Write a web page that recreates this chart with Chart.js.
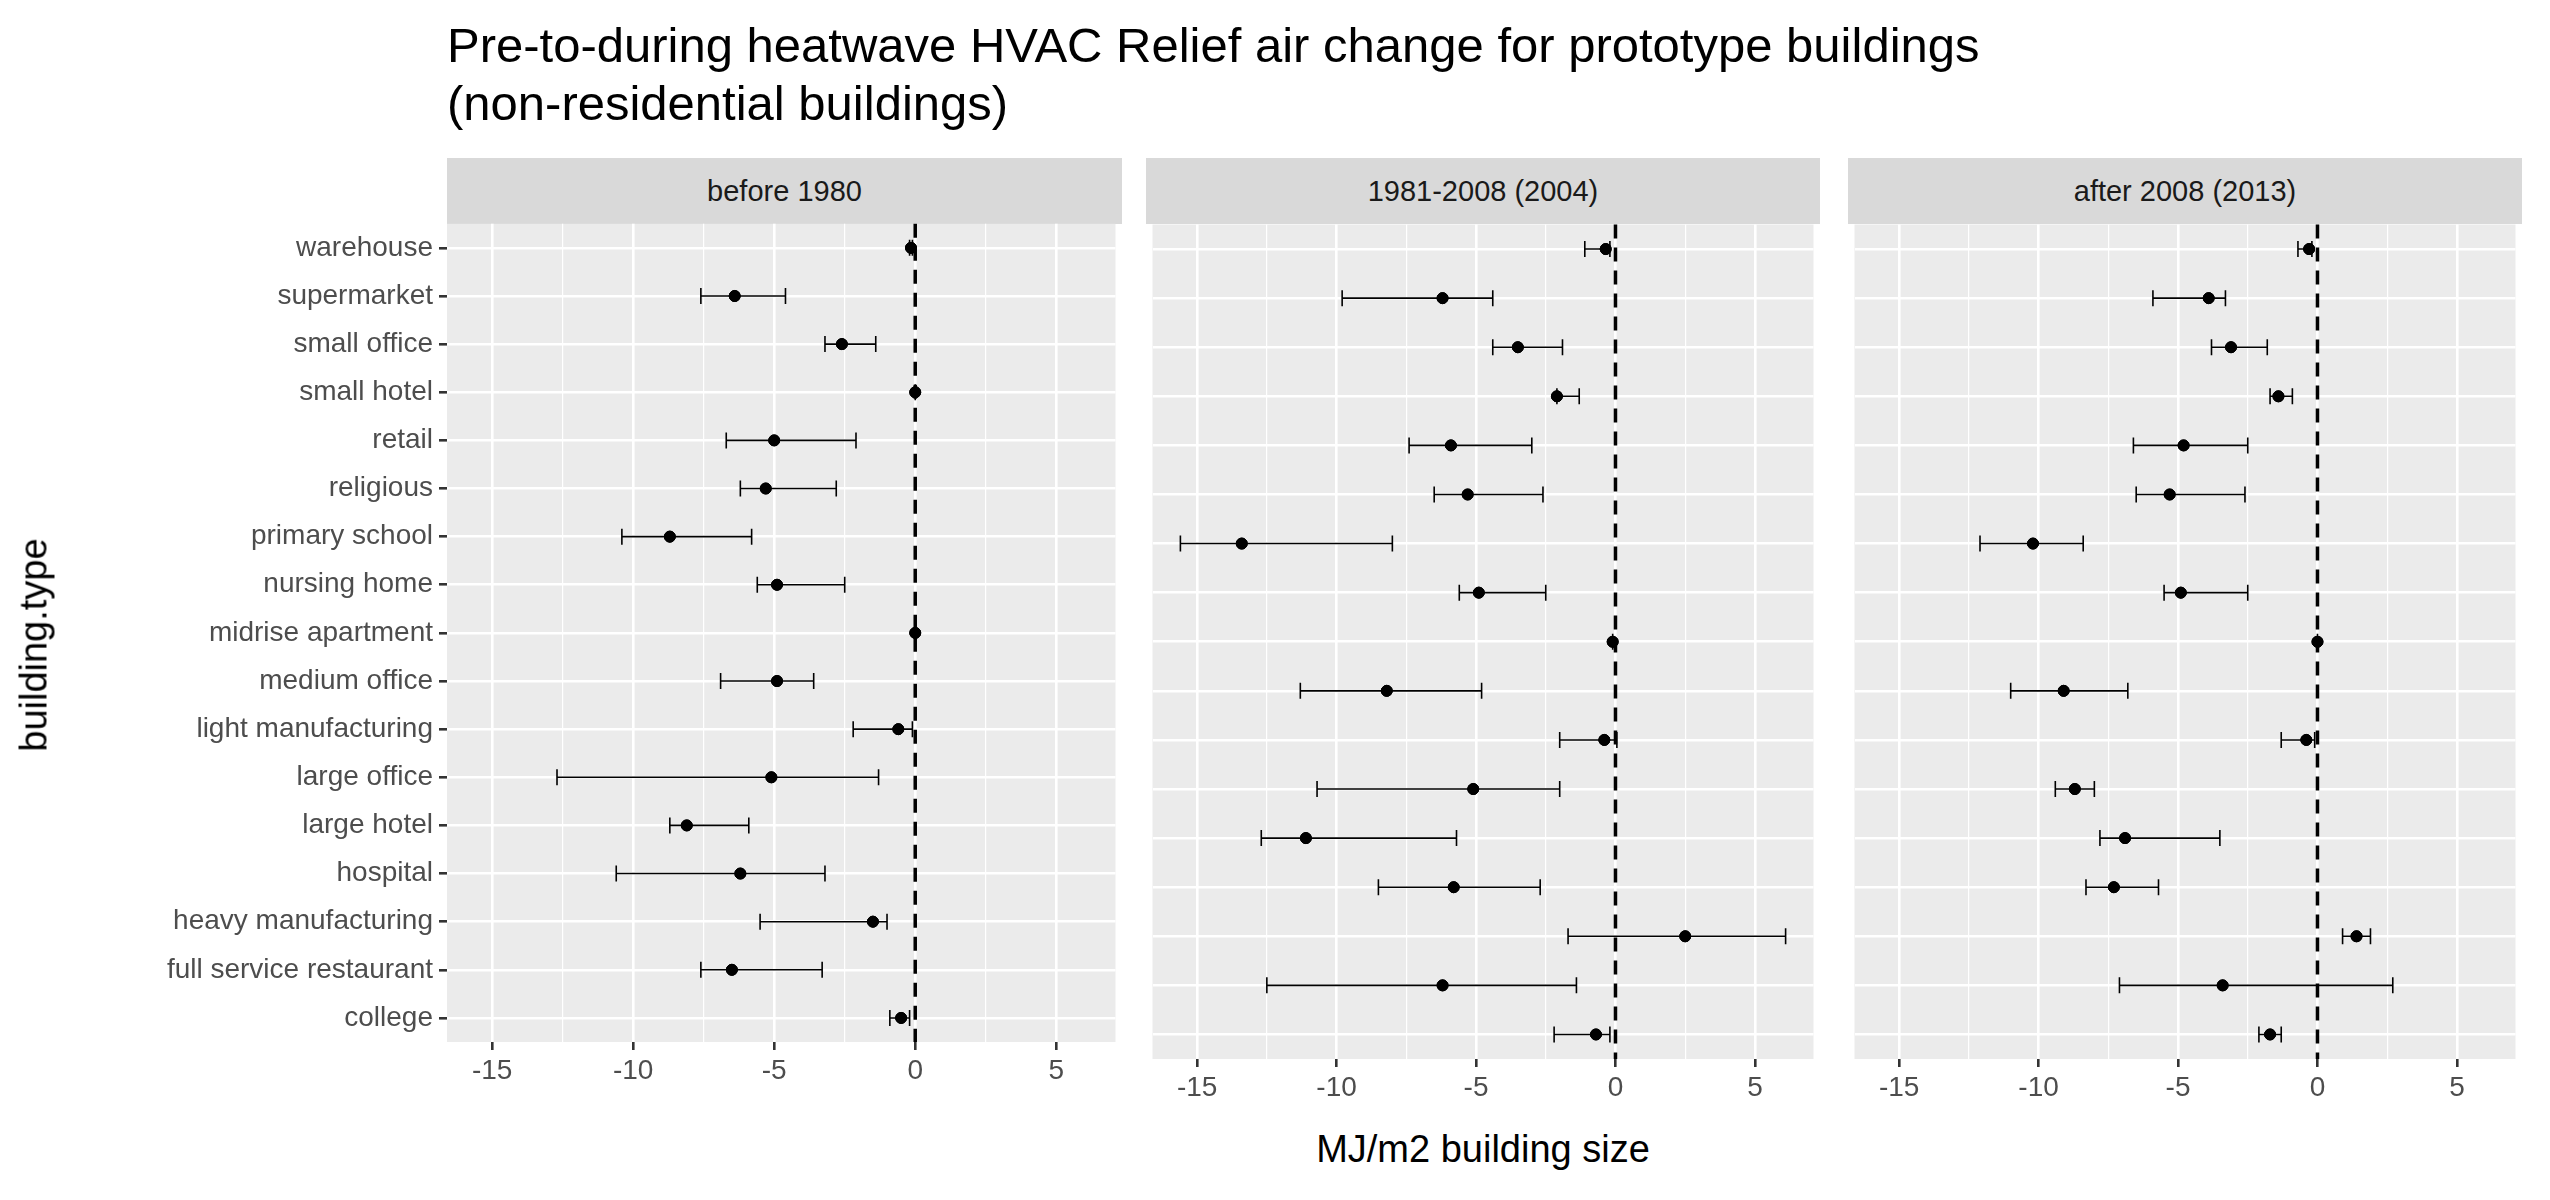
<!DOCTYPE html>
<html><head><meta charset="utf-8">
<script src="https://cdn.jsdelivr.net/npm/chart.js@4"></script>
<style>
body{margin:0;width:2550px;height:1200px;background:#fff;font-family:"Liberation Sans",Arial,sans-serif;position:relative;overflow:hidden}
.abs{position:absolute}
.strip{position:absolute;top:158px;height:66px;background:#D9D9D9;color:#1A1A1A;font-size:29px;display:flex;align-items:center;justify-content:center}
</style></head><body>
<div class="abs" style="left:447px;top:16px;font-size:49px;line-height:58px;color:#000">Pre-to-during heatwave HVAC Relief air change for prototype buildings<br>(non-residential buildings)</div>
<div class="strip" style="left:447px;width:675px">before 1980</div>
<div class="strip" style="left:1146px;width:674px">1981-2008 (2004)</div>
<div class="strip" style="left:1848px;width:674px">after 2008 (2013)</div>
<canvas id="p0" class="abs" style="left:0;top:224px"></canvas>
<canvas id="p1" class="abs" style="left:1146px;top:224px"></canvas>
<canvas id="p2" class="abs" style="left:1848px;top:224px"></canvas>
<div class="abs" style="left:1146px;width:674px;top:1128px;text-align:center;font-size:38px;color:#000">MJ/m2 building size</div>
<div class="abs" style="top:645px;font-size:38px;color:#000;transform:translate(-50%,-50%) rotate(-90deg);white-space:nowrap;left:34px">building.type</div>
<script>
const buildingTypes = ['warehouse','supermarket','small office','small hotel','retail','religious','primary school','nursing home','midrise apartment','medium office','light manufacturing','large office','large hotel','hospital','heavy manufacturing','full service restaurant','college'];
const xTicks = [-15,-12.5,-10,-7.5,-5,-2.5,0,2.5,5];

const before1980 = [-0.15,-6.4,-2.6,0,-5.0,-5.3,-8.7,-4.9,0,-4.9,-0.6,-5.1,-8.1,-6.2,-1.5,-6.5,-0.5];
const before1980Lo = [-0.2,-7.6,-3.2,0,-6.7,-6.2,-10.4,-5.6,0,-6.9,-2.2,-12.7,-8.7,-10.6,-5.5,-7.6,-0.9];
const before1980Hi = [-0.1,-4.6,-1.4,0,-2.1,-2.8,-5.8,-2.5,0,-3.6,-0.1,-1.3,-5.9,-3.2,-1.0,-3.3,-0.2];

const mid2004 = [-0.35,-6.2,-3.5,-2.1,-5.9,-5.3,-13.4,-4.9,-0.1,-8.2,-0.4,-5.1,-11.1,-5.8,2.5,-6.2,-0.7];
const mid2004Lo = [-1.1,-9.8,-4.4,-2.1,-7.4,-6.5,-15.6,-5.6,-0.1,-11.3,-2.0,-10.7,-12.7,-8.5,-1.7,-12.5,-2.2];
const mid2004Hi = [-0.2,-4.4,-1.9,-1.3,-3.0,-2.6,-8.0,-2.5,-0.1,-4.8,0.05,-2.0,-5.7,-2.7,6.1,-1.4,-0.2];

const after2013 = [-0.3,-3.9,-3.1,-1.4,-4.8,-5.3,-10.2,-4.9,0,-9.1,-0.4,-8.7,-6.9,-7.3,1.4,-3.4,-1.7];
const after2013Lo = [-0.7,-5.9,-3.8,-1.7,-6.6,-6.5,-12.1,-5.5,0,-11.0,-1.3,-9.4,-7.8,-8.3,0.9,-7.1,-2.1];
const after2013Hi = [-0.2,-3.3,-1.8,-0.9,-2.5,-2.6,-8.4,-2.5,0,-6.8,-0.1,-8.0,-3.5,-5.7,1.9,2.7,-1.3];

const panelBg = {
  id: 'panelBg',
  beforeDraw(chart) {
    const a = chart.chartArea, c = chart.ctx;
    c.save(); c.fillStyle = '#EBEBEB';
    c.fillRect(a.left, a.top, a.right - a.left, a.bottom - a.top);
    c.restore();
  }
};

const errBars = {
  id: 'errBars',
  afterDatasetsDraw(chart) {
    const c = chart.ctx, xs = chart.scales.x, ys = chart.scales.y, a = chart.chartArea;
    const lo = chart.options.plugins.errBars.lo, hi = chart.options.plugins.errBars.hi;
    c.save();
    // zero reference line
    const x0 = xs.getPixelForValue(0);
    c.strokeStyle = '#000'; c.lineWidth = 3.5; c.setLineDash([14, 9]);
    c.beginPath(); c.moveTo(x0, a.top); c.lineTo(x0, a.bottom); c.stroke();
    c.setLineDash([]); c.lineWidth = 1.6;
    buildingTypes.forEach((b, i) => {
      const y = ys.getPixelForValue(i);
      const x1 = xs.getPixelForValue(lo[i]), x2 = xs.getPixelForValue(hi[i]);
      c.beginPath();
      c.moveTo(x1, y); c.lineTo(x2, y);
      c.moveTo(x1, y - 8); c.lineTo(x1, y + 8);
      c.moveTo(x2, y - 8); c.lineTo(x2, y + 8);
      c.stroke();
    });
    c.restore();
    // redraw points on top
    chart.getDatasetMeta(0).controller.draw();
  }
};

function makePanel(id, left, width, vals, lo, hi) {
  const cv = document.getElementById(id);
  cv.width = width; cv.height = 901;
  cv.style.width = width + 'px'; cv.style.height = '901px';
  const chart = new Chart(cv, {
    type: 'scatter',
    data: {
      labels: buildingTypes,
      datasets: [{
        data: vals.map((v, i) => ({ x: v, y: buildingTypes[i] })),
        backgroundColor: '#000', borderColor: '#000',
        pointRadius: 5.5, pointHoverRadius: 5.5
      }]
    },
    plugins: [panelBg, errBars],
    options: {
      responsive: false, animation: false, devicePixelRatio: 1,
      layout: { padding: 0 },
      plugins: { legend: { display: false }, tooltip: { enabled: false }, errBars: { lo: lo, hi: hi } },
      scales: {
        x: {
          type: 'linear', min: -16.6, max: 7.1,
          afterBuildTicks: s => { s.ticks = xTicks.map(v => ({ value: v })); },
          afterFit: s => { s.height = 60; },
          border: { display: false },
          grid: {
            color: '#FFFFFF',
            lineWidth: c => (c.tick && c.tick.value % 5 === 0) ? 2.6 : 1.2,
            tickColor: c => (c.tick && c.tick.value % 5 === 0) ? '#333333' : 'rgba(0,0,0,0)',
            tickLength: 8
          },
          ticks: {
            color: '#4D4D4D', font: { size: 28, family: 'Liberation Sans' }, padding: 4,
            maxRotation: 0, autoSkip: false,
            callback: v => (v % 5 === 0) ? String(v) : ''
          }
        },
        y: {
          type: 'category', labels: buildingTypes, offset: true,
          afterFit: s => { s.width = left; },
          border: { display: false },
          grid: { color: '#FFFFFF', lineWidth: 2.6, tickColor: left ? '#333333' : 'rgba(0,0,0,0)', tickLength: left ? 8 : 0, offset: false },
          ticks: { display: left > 0, color: '#4D4D4D', font: { size: 28, family: 'Liberation Sans' }, padding: 6, autoSkip: false }
        }
      }
    }
  });
  // align plot area to the strip bottom (224) and x axis at 1065
  const top = chart.chartArea.top;
  if (top > 0) {
    chart.resize(width, 901 + top);
    cv.style.top = (224 - chart.chartArea.top) + 'px';
  }
}

makePanel('p0', 447, 1122, before1980, before1980Lo, before1980Hi);
makePanel('p1', 0, 674, mid2004, mid2004Lo, mid2004Hi);
makePanel('p2', 0, 674, after2013, after2013Lo, after2013Hi);
</script>
</body></html>
